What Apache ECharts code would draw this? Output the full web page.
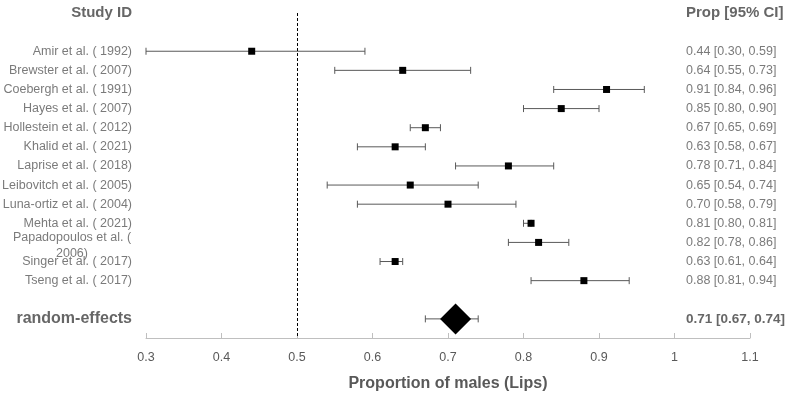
<!DOCTYPE html>
<html>
<head>
<meta charset="utf-8">
<script src="https://cdn.jsdelivr.net/npm/echarts@6/dist/echarts.min.js"></script>
<style>
  html, body { margin: 0; padding: 0; background: #fff; }
  #chart { width: 790px; height: 393px; }
</style>
</head>
<body>
<div id="chart"></div>
<script>
// study data
let studies = [
    "Amir et al. ( 1992)",
    "Brewster et al. ( 2007)",
    "Coebergh et al. ( 1991)",
    "Hayes et al. ( 2007)",
    "Hollestein et al. ( 2012)",
    "Khalid et al. ( 2021)",
    "Laprise et al. ( 2018)",
    "Leibovitch et al. ( 2005)",
    "Luna-ortiz et al. ( 2004)",
    "Mehta et al. ( 2021)",
    "Papadopoulos et al. (\n2006)",
    "Singer et al. ( 2017)",
    "Tseng et al. ( 2017)"
];
let prop  = [0.44, 0.64, 0.91, 0.85, 0.67, 0.63, 0.78, 0.65, 0.70, 0.81, 0.82, 0.63, 0.88];
let lower = [0.30, 0.55, 0.84, 0.80, 0.65, 0.58, 0.71, 0.54, 0.58, 0.80, 0.78, 0.61, 0.81];
let upper = [0.59, 0.73, 0.96, 0.90, 0.69, 0.67, 0.84, 0.74, 0.79, 0.81, 0.86, 0.64, 0.94];

// pooled estimate
let pooledName = "random-effects";
let pooled = 0.71, pooledLower = 0.67, pooledUpper = 0.74;

let xTicks = [0.3, 0.4, 0.5, 0.6, 0.7, 0.8, 0.9, 1, 1.1];
let nullValue = 0.5;

let pooledRow = studies.length + 1;
let headerRow = -2;

let grey = "#595959";
let dark = "#404040";
let font = "'Liberation Sans', Arial, sans-serif";

function fmt(v) { return v.toFixed(2); }

// rows for the error bars
let barData = [];
for (let [i, p] of prop.entries()) {
    barData.push([i, lower[i], upper[i]]);
}
barData.push([pooledRow, pooledLower, pooledUpper]);

let pointData = prop.map((p, i) => [p, i]);

// left side names
let leftLabels = [{
    value: [xTicks[0], headerRow], name: "Study ID",
    label: {fontSize: 15, fontWeight: 'bold', color: dark}
}];
for (let [i, s] of studies.entries()) {
    let item = {value: [xTicks[0], i], name: s};
    if (s.indexOf("\n") >= 0) {
        item.label = {align: 'center', offset: [-60, 3], lineHeight: 16};
    }
    leftLabels.push(item);
}
leftLabels.push({
    value: [xTicks[0], pooledRow], name: pooledName,
    label: {fontSize: 16, fontWeight: 'bold', color: dark}
});

// right side text
let rightLabels = [{
    value: [xTicks[xTicks.length - 1], headerRow], name: "Prop [95% CI]",
    label: {fontSize: 15, fontWeight: 'bold', color: dark}
}];
for (let i = 0; i < prop.length; i++) {
    rightLabels.push({
        value: [xTicks[xTicks.length - 1], i],
        name: fmt(prop[i]) + " [" + fmt(lower[i]) + ", " + fmt(upper[i]) + "]"
    });
}
rightLabels.push({
    value: [xTicks[xTicks.length - 1], pooledRow],
    name: fmt(pooled) + " [" + fmt(pooledLower) + ", " + fmt(pooledUpper) + "]",
    label: {fontSize: 13.5, fontWeight: 'bold', color: dark}
});

let myChart = echarts.init(document.getElementById("chart"));

let option = {
    animation: false,
    textStyle: {fontFamily: font},
    grid: {left: 146, right: 40, top: 13, bottom: 55, containLabel: false, outerBoundsMode: 'none'},
    xAxis: {
        type: 'value',
        min: xTicks[0],
        max: xTicks[xTicks.length - 1],
        interval: 0.1,
        name: "Proportion of males (Lips)",
        nameLocation: 'middle',
        nameGap: 38,
        nameTextStyle: {fontSize: 16, fontWeight: 'bold', color: grey, fontFamily: font},
        axisLine: {onZero: false, lineStyle: {color: '#bfbfbf', width: 1}},
        axisTick: {inside: true, length: 5, lineStyle: {color: '#bfbfbf'}},
        axisLabel: {color: grey, fontSize: 12.5, margin: 13, fontFamily: font},
        splitLine: {show: false}
    },
    yAxis: {
        type: 'value',
        min: headerRow,
        max: pooledRow + 1,
        inverse: true,
        show: false
    },
    series: [
        {
            type: 'custom',
            z: 2,
            data: barData,
            encode: {x: [1, 2], y: 0},
            renderItem: function(params, api) {
                let y = api.value(0);
                let a = api.coord([api.value(1), y]);
                let b = api.coord([api.value(2), y]);
                let style = {stroke: grey, lineWidth: 1};
                return {
                    type: 'group',
                    children: [
                        {type: 'line', shape: {x1: a[0], y1: a[1], x2: b[0], y2: b[1]}, style: style},
                        {type: 'line', shape: {x1: a[0], y1: a[1] - 3.5, x2: a[0], y2: a[1] + 3.5}, style: style},
                        {type: 'line', shape: {x1: b[0], y1: b[1] - 3.5, x2: b[0], y2: b[1] + 3.5}, style: style}
                    ]
                };
            }
        },
        {
            type: 'scatter',
            z: 3,
            symbol: 'rect',
            symbolSize: 7,
            itemStyle: {color: '#000', opacity: 1},
            data: pointData,
            markLine: {
                silent: true,
                symbol: 'none',
                label: {show: false},
                lineStyle: {color: '#000', type: [3, 2], width: 1},
                data: [{xAxis: nullValue}]
            }
        },
        {
            type: 'scatter',
            z: 4,
            symbol: 'diamond',
            symbolSize: [31, 31],
            itemStyle: {color: '#000', opacity: 1},
            data: [[pooled, pooledRow]]
        },
        {
            type: 'scatter',
            symbolSize: 0,
            clip: false,
            silent: true,
            data: leftLabels,
            label: {
                show: true,
                position: 'left',
                distance: 14,
                formatter: '{b}',
                color: grey,
                fontSize: 12.5,
                fontFamily: font
            }
        },
        {
            type: 'scatter',
            symbolSize: 0,
            clip: false,
            silent: true,
            data: rightLabels,
            label: {
                show: true,
                position: 'inside',
                align: 'left',
                offset: [-64, 0],
                formatter: '{b}',
                color: grey,
                fontSize: 12.5,
                fontFamily: font
            }
        }
    ]
};

myChart.setOption(option);
</script>
</body>
</html>
